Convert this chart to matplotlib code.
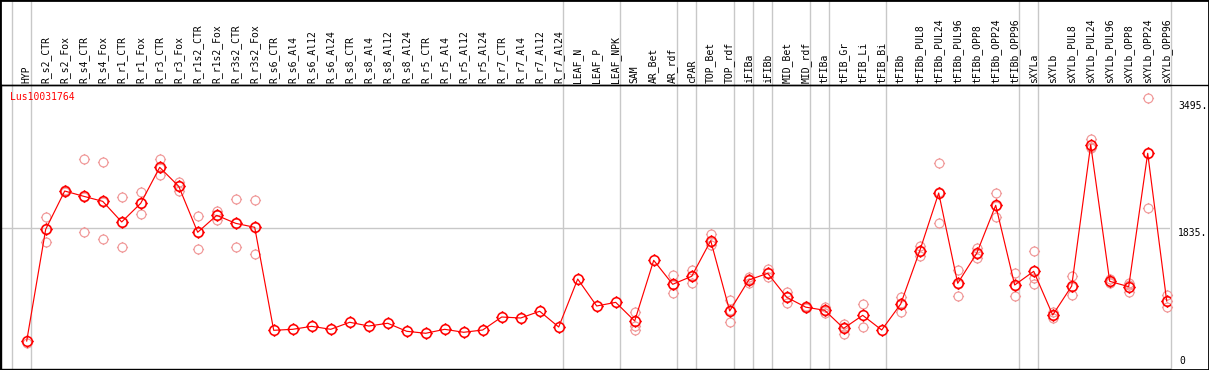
import matplotlib
matplotlib.use('Agg')
import matplotlib.pyplot as plt
from matplotlib.path import Path
from matplotlib.lines import Line2D
from matplotlib.patches import Rectangle

# ---------------- data ----------------
gene = "Lus10031764"
samples = ["HYP", "R_s2_CTR", "R_s2_Fox", "R_s4_CTR", "R_s4_Fox", "R_r1_CTR", "R_r1_Fox",
           "R_r3_CTR", "R_r3_Fox", "R_r1s2_CTR", "R_r1s2_Fox", "R_r3s2_CTR", "R_r3s2_Fox",
           "R_s6_CTR", "R_s6_Al4", "R_s6_Al12", "R_s6_Al24", "R_s8_CTR", "R_s8_Al4",
           "R_s8_Al12", "R_s8_Al24", "R_r5_CTR", "R_r5_Al4", "R_r5_Al12", "R_r5_Al24",
           "R_r7_CTR", "R_r7_Al4", "R_r7_Al12", "R_r7_Al24", "LEAF_N", "LEAF_P", "LEAF_NPK",
           "SAM", "AR_Bet", "AR_rdf", "cPAR", "TOP_Bet", "TOP_rdf", "iFIBa", "iFIBb",
           "MID_Bet", "MID_rdf", "tFIBa", "tFIB_Gr", "tFIB_Li", "tFIB_Bi", "tFIBb",
           "tFIBb_PUL8", "tFIBb_PUL24", "tFIBb_PUL96", "tFIBb_OPP8", "tFIBb_OPP24",
           "tFIBb_OPP96", "sXYLa", "sXYLb", "sXYLb_PUL8", "sXYLb_PUL24", "sXYLb_PUL96",
           "sXYLb_OPP8", "sXYLb_OPP24", "sXYLb_OPP96"]

means = [360, 1822, 2323, 2254, 2188, 1918, 2162, 2633, 2385, 1783, 2005, 1900, 1848,
         500, 513, 552, 513, 605, 556, 592, 487, 461, 513, 474, 504, 674, 661, 749, 543,
         1171, 818, 866, 622, 1416, 1102, 1207, 1673, 753, 1158, 1246, 932, 803, 762,
         526, 696, 504, 844, 1538, 2297, 1115, 1508, 2136, 1093, 1272, 700, 1080, 2929,
         1141, 1071, 2817, 883]

replicates = [
    [330], [1979, 1660, 1827], [2340, 2310], [2738, 1783, 2241], [2699, 1691, 2174],
    [2241, 1594, 1919], [2306, 2018, 2162], [2738, 2537, 2624], [2445, 2323, 2387],
    [1996, 1560, 1793], [2066, 1944, 2005], [2215, 1586, 1899], [2202, 1495, 1847],
    [], [], [], [], [], [], [], [], [], [], [], [], [], [], [], [],
    [], [], [],
    [736, 556, 508], [], [1220, 992, 1094], [1293, 1123, 1207], [1760, 1612, 1650],
    [893, 605, 761], [1194, 1115, 1165], [1298, 1194, 1246], [1005, 853, 938],
    [815, 790], [809, 722, 755], [578, 456, 544], [844, 539], [],
    [936, 743, 853], [1603, 1468, 1543], [2686, 1900, 2305], [1289, 945, 1111],
    [1573, 1450, 1501], [2293, 1987, 2128], [1246, 949, 1084], [1538, 1185, 1102],
    [736, 665, 699], [1211, 958, 1071], [3008, 2882, 2897], [1171, 1115, 1137],
    [1119, 997, 1097], [3537, 2097, 2817], [962, 801, 886]]

# last sample index of each group (group separators drawn after these)
group_ends = [-1, 0, 28, 31, 34, 35, 37, 38, 39, 41, 42, 45, 52, 53, 60]
ref_levels = [3495, 1835]
ref_labels = ["3495.", "1835."]

# ---------------- layout ----------------
W, H = 1209, 370
fig = plt.figure(figsize=(W / 100, H / 100), dpi=100)
ax_left, ax_right, ax_top, ax_bot = 1, 1170, 85, 368.5
ax = fig.add_axes([ax_left / W, (H - ax_bot) / H, (ax_right - ax_left) / W, (ax_bot - ax_top) / H])
x0px, step = 26.7, 19.0
ax.set_xlim((ax_left - x0px) / step, (ax_right - x0px) / step)
px_per_unit = 0.0764
ax.set_ylim(0, (ax_bot - ax_top) / px_per_unit)
ax.set_xticks([])
ax.set_yticks([])
for s in ['left', 'bottom', 'top']:
    ax.spines[s].set_color('black')
    ax.spines[s].set_linewidth(1.0)
ax.spines['right'].set_visible(False)

grid_c = '#c8c8c8'
ext = 1 + ax_top / (ax_bot - ax_top)
for g in group_ends:
    ax.axvline(g + 0.21, 0, ext, color=grid_c, lw=1.0, zorder=0, clip_on=False)
ax.axhline(ref_levels[1], color=grid_c, lw=1.0, zorder=0)


def stub_circle(stub):
    circ = Path.unit_circle()
    verts = list(circ.vertices)
    codes = list(circ.codes)
    for dx, dy in [(1, 0), (-1, 0), (0, 1), (0, -1)]:
        verts += [(dx * 1.0, dy * 1.0), (dx * stub, dy * stub)]
        codes += [Path.MOVETO, Path.LINETO]
    return Path(verts, codes)


mk_mean = stub_circle(1.3)
mk_rep = stub_circle(1.25)

xs = list(range(len(samples)))
rx, ry = [], []
for i, reps in enumerate(replicates):
    for v in reps:
        rx.append(i)
        ry.append(v)
ax.plot(rx, ry, ls='none', marker=mk_rep, ms=8, mfc='none', mec='#f09898', mew=0.85, zorder=2, clip_on=False)
ax.plot(xs, means, color='#ff0000', lw=0.85, zorder=3)
ax.plot(xs, means, ls='none', marker=mk_mean, ms=9, mfc='none', mec='#ff0000', mew=1.15, zorder=4)

# sample labels
mono = 'DejaVu Sans Mono'
for i, lab in enumerate(samples):
    ax.text(i, 1 + 2.5 / (ax_bot - ax_top), lab, transform=ax.get_xaxis_transform(),
            rotation=90, ha='center', va='bottom', fontsize=7, family=mono, color='black')

fig.text(10 / W, 1 - 97 / H, gene, color='#ff0000', fontsize=7, family=mono, ha='left', va='center')

xr = (1178 - x0px) / step
for lv, lb in zip(ref_levels, ref_labels):
    ax.text(xr, lv, lb, ha='left', va='top', fontsize=7, family=mono, clip_on=False)
fig.text(1179 / W, 1 - 366 / H, "0", ha='left', va='bottom', fontsize=7, family=mono)

# frame and separator
fig.add_artist(Rectangle((0, 0), 1, 1, transform=fig.transFigure, fill=False, ec='black', lw=2))
fig.add_artist(Line2D([0, 1], [1 - ax_top / H, 1 - ax_top / H], transform=fig.transFigure, color='black', lw=1.0))

fig.savefig('out.png', dpi=100)
